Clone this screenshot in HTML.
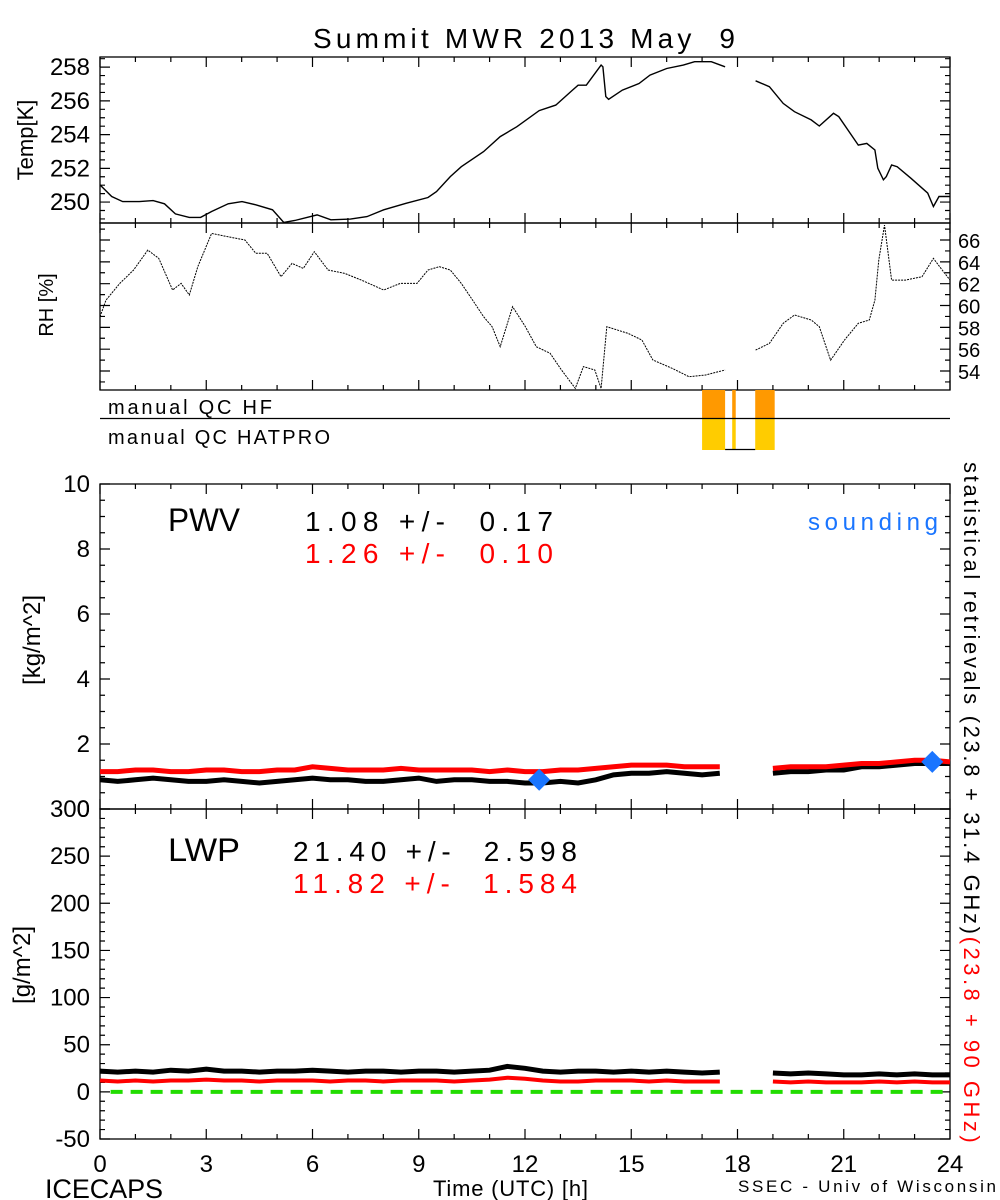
<!DOCTYPE html>
<html><head><meta charset="utf-8"><style>
html,body{margin:0;padding:0;background:#fff}
svg{display:block;font-family:"Liberation Sans",sans-serif}
</style></head><body>
<svg id="c" width="1000" height="1200" viewBox="0 0 1000 1200" xmlns="http://www.w3.org/2000/svg">
<text x="313" y="48" font-size="28" textLength="422" lengthAdjust="spacing" xml:space="preserve">Summit MWR 2013 May  9</text>
<text transform="translate(33,140) rotate(-90)" font-size="22" text-anchor="middle">Temp[K]</text>
<text transform="translate(53,305) rotate(-90)" font-size="20" text-anchor="middle">RH [%]</text>
<text x="108" y="414" font-size="20" textLength="164" lengthAdjust="spacing">manual QC HF</text>
<text x="108" y="444" font-size="20" textLength="222" lengthAdjust="spacing">manual QC HATPRO</text>
<text transform="translate(40,640) rotate(-90)" font-size="24" text-anchor="middle">[kg/m^2]</text>
<text transform="translate(30,965) rotate(-90)" font-size="24" text-anchor="middle">[g/m^2]</text>
<text x="168" y="531" font-size="32" textLength="72" lengthAdjust="spacingAndGlyphs">PWV</text>
<text x="305" y="531" font-size="28" textLength="248" lengthAdjust="spacing" xml:space="preserve">1.08 +/-  0.17</text>
<text x="305" y="563" font-size="28" fill="#ff0000" textLength="248" lengthAdjust="spacing" xml:space="preserve">1.26 +/-  0.10</text>
<text x="808" y="530" font-size="24" fill="#1a75ff" textLength="130" lengthAdjust="spacing">sounding</text>
<text x="168" y="861" font-size="32" textLength="72" lengthAdjust="spacingAndGlyphs">LWP</text>
<text x="293" y="861" font-size="28" textLength="284" lengthAdjust="spacing" xml:space="preserve">21.40 +/-  2.598</text>
<text x="293" y="893" font-size="28" fill="#ff0000" textLength="284" lengthAdjust="spacing" xml:space="preserve">11.82 +/-  1.584</text>
<text transform="translate(964,462) rotate(90)" font-size="22"><tspan textLength="472" lengthAdjust="spacing">statistical retrievals (23.8 + 31.4 GHz)</tspan><tspan fill="#ff0000" textLength="206" lengthAdjust="spacing">(23.8 + 90 GHz)</tspan></text>
<text x="45" y="1198" font-size="27" textLength="118" lengthAdjust="spacing">ICECAPS</text>
<text x="433" y="1196" font-size="22" textLength="155" lengthAdjust="spacing">Time (UTC) [h]</text>
<text x="738" y="1192" font-size="17" textLength="258" lengthAdjust="spacing">SSEC - Univ of Wisconsin</text>
</svg>
<script>
const tempH=[0,0.33,0.64,1.11,1.5,1.82,2.13,2.52,2.84,3.15,3.62,4.01,4.4,4.87,5.19,5.5,6.13,6.52,7.07,7.54,8.01,8.64,9.26,9.5,9.89,10.2,10.83,11.3,11.77,12.4,12.87,13.34,13.5,13.73,14.15,14.2,14.28,14.36,14.75,15.22,15.53,16,16.47,16.79,17.26,17.65,18.0,18.51,18.9,19.29,19.61,20.08,20.31,20.71,20.86,21.41,21.65,21.88,21.96,22.12,22.2,22.35,22.51,22.9,23.37,23.53,23.69,24];
const tempV=[251.02,250.33,250.03,250.03,250.09,249.9,249.3,249.09,249.09,249.44,249.9,250.03,249.84,249.54,248.79,248.91,249.24,248.95,248.99,249.14,249.54,249.93,250.27,250.62,251.51,252.1,252.99,253.88,254.47,255.42,255.75,256.64,256.93,256.93,258.12,258.02,256.25,256.09,256.64,257.03,257.53,257.92,258.12,258.32,258.32,258.02,null,257.19,256.84,255.85,255.36,254.87,254.51,255.26,255.06,253.38,253.48,253.09,252.01,251.32,251.51,252.2,252.1,251.41,250.53,249.74,250.33,250.33];
const rhH=[0,0.17,0.56,0.95,1.35,1.66,2.05,2.29,2.52,2.76,3.15,3.62,4.09,4.4,4.72,5.11,5.42,5.74,6.05,6.44,6.91,7.38,8.01,8.48,8.95,9.26,9.58,9.89,10.2,10.52,10.83,11.07,11.3,11.65,12.01,12.32,12.71,13.03,13.42,13.65,13.97,14.15,14.31,14.91,15.3,15.61,16.16,16.63,17.1,17.65,18.0,18.51,18.9,19.29,19.61,20.08,20.31,20.63,21.02,21.41,21.72,21.88,21.99,22.15,22.35,22.74,23.21,23.53,23.78,24];
const rhV=[58.98,60.5,62.03,63.25,65.08,64.32,61.42,62.03,60.96,63.56,66.61,66.3,66,64.78,64.78,62.64,63.86,63.4,64.93,63.25,62.94,62.33,61.42,62.03,62.03,63.25,63.56,63.25,62.03,60.5,58.98,58.06,56.23,59.89,58.06,56.23,55.62,54.09,52.41,54.4,54.09,52.41,58.06,57.45,56.84,55.01,54.24,53.48,53.63,54.09,null,55.92,56.53,58.37,59.13,58.67,58.06,54.99,56.84,58.37,58.67,60.5,64.17,67.37,62.33,62.33,62.64,64.32,63.25,62.33];
const gridH=[0,0.5,1,1.5,2,2.5,3,3.5,4,4.5,5,5.5,6,6.5,7,7.5,8,8.5,9,9.5,10,10.5,11,11.5,12,12.5,13,13.5,14,14.5,15,15.5,16,16.5,17,17.5,18,18.5,19,19.5,20,20.5,21,21.5,22,22.5,23,23.5,24];
const pwvBlack=[0.9,0.85,0.9,0.95,0.9,0.85,0.85,0.9,0.85,0.8,0.85,0.9,0.95,0.9,0.9,0.85,0.85,0.9,0.95,0.85,0.9,0.9,0.85,0.85,0.8,0.8,0.85,0.8,0.9,1.05,1.1,1.1,1.15,1.1,1.05,1.1,null,null,1.1,1.15,1.15,1.2,1.2,1.3,1.3,1.35,1.4,1.4,1.4];
const pwvRed=[1.15,1.15,1.2,1.2,1.15,1.15,1.2,1.2,1.15,1.15,1.2,1.2,1.3,1.25,1.2,1.2,1.2,1.25,1.2,1.2,1.2,1.2,1.15,1.2,1.15,1.15,1.2,1.2,1.25,1.3,1.35,1.35,1.35,1.3,1.3,1.3,null,null,1.25,1.3,1.3,1.3,1.35,1.4,1.4,1.45,1.5,1.5,1.45];
const lwpBlack=[22,21,22,21,23,22,24,22,22,21,22,22,23,22,21,22,22,21,22,22,21,22,23,27,25,22,21,22,22,21,22,21,22,21,20,21,null,null,20,19,20,19,18,18,19,18,19,18,18];
const lwpRed=[12,11,12,11,12,12,13,12,12,11,12,12,12,11,12,12,11,12,12,12,11,12,13,15,14,12,11,11,12,12,12,11,12,11,11,11,null,null,11,10,11,10,10,10,11,10,11,10,10];
const soundH=[12.4,23.5];
const soundV=[0.9,1.45];
const qcHF=[[17.0,17.65],[17.85,17.95],[18.5,19.05]];
const qcHAT=[[17.0,17.65],[17.85,17.95],[18.5,19.05]];
const xTicks=[0,3,6,9,12,15,18,21,24];
const tempTicks=[250,252,254,256,258];
const rhTicks=[54,56,58,60,62,64,66];
const pwvTicks=[0,2,4,6,8,10];
const lwpTicks=[-50,0,50,100,150,200,250,300];

const svg=document.getElementById('c');
const NS='http://www.w3.org/2000/svg';
const X0=100,X1=950;
const xs=h=>X0+(X1-X0)*h/24;
function lin(d0,d1,p0,p1){return v=>p0+(v-d0)*(p1-p0)/(d1-d0);}
const yT=lin(248.76,258.6,223,57);
const yR=lin(52.26,67.56,390,223);
const yP=lin(0,10,809,484);
const yL=lin(-50,300,1139,809);
function el(t,a){const e=document.createElementNS(NS,t);for(const k in a)e.setAttribute(k,a[k]);svg.appendChild(e);return e;}
function pathD(hs,vs,ys){let d='',pen=false;for(let i=0;i<hs.length;i++){if(vs[i]==null){pen=false;continue;}d+=(pen?'L':'M')+xs(hs[i]).toFixed(1)+','+ys(vs[i]).toFixed(1);pen=true;}return d;}
function frame(top,bot,name){
  const r=el('rect',{x:X0,y:top,width:X1-X0,height:bot-top,fill:'none',stroke:'#000','stroke-width':1.3});
  
  
  let d='';
  for(let h=0;h<=24;h++){const L=(h%3==0)?10:5;d+=`M${xs(h)},${bot}v${-L}M${xs(h)},${top}v${L}`;}
  const t=el('path',{d:d,stroke:'#000','stroke-width':1.2});
  
  
}
function yticks(vals,ys,minor,name,side,fs){
  let d='';
  for(const v of minor){const y=ys(v);d+=`M${X0},${y}h5M${X1},${y}h-5`;}
  for(const v of vals){const y=ys(v);d+=`M${X0},${y}h10M${X1},${y}h-10`;
    const t=el('text',{x:side=='r'?958:90,y:y+8,'font-size':fs,'text-anchor':side=='r'?'start':'end'});
    t.textContent=v;
    
    }
  const p=el('path',{d:d,stroke:'#000','stroke-width':1.2});
  
  
}
function range(a,b,s){const r=[];for(let v=a;v<=b+1e-9;v+=s)r.push(+v.toFixed(3));return r;}

frame(57,223,'temp-panel');
yticks(tempTicks,yT,range(249,258.5,0.5),'temp','l',24);
let p=el('path',{d:pathD(tempH,tempV,yT),fill:'none',stroke:'#000','stroke-width':1.4});


frame(223,390,'rh-panel');
yticks(rhTicks,yR,range(53,67,1),'rh','r',20);
p=el('path',{d:pathD(rhH,rhV,yR),fill:'none',stroke:'#000','stroke-width':1,'stroke-dasharray':'2 1'});


for(const [a,b] of qcHF){const r=el('rect',{x:xs(a),y:390,width:xs(b)-xs(a),height:29,fill:'#ff9900'});
  
  }
for(const [a,b] of qcHAT){const r=el('rect',{x:xs(a),y:419,width:xs(b)-xs(a),height:31,fill:'#ffcc00'});
  
  }
p=el('path',{d:`M${X0},418.5H${X1}M${xs(17.65)},449.5H${xs(18.5)}`,stroke:'#000','stroke-width':1.3});


frame(484,809,'pwv-panel');
yticks(pwvTicks,yP,range(0,10,0.5),'pwv','l',24);
p=el('path',{d:pathD(gridH,pwvBlack,yP),fill:'none',stroke:'#000','stroke-width':5});


p=el('path',{d:pathD(gridH,pwvRed,yP),fill:'none',stroke:'#ff0000','stroke-width':5});


for(let i=0;i<soundH.length;i++){const cx=xs(soundH[i]),cy=yP(soundV[i]);
  const d=el('path',{d:`M${cx-11},${cy}L${cx},${cy-11}L${cx+11},${cy}L${cx},${cy+11}Z`,fill:'#1a75ff'});
  
  }
frame(809,1139,'lwp-panel');
yticks(lwpTicks,yL,range(-50,300,10),'lwp','l',24);
p=el('path',{d:`M${xs(0.3)},${yL(0)}H${X1}`,stroke:'#22dd00','stroke-width':4,'stroke-dasharray':'12 8'});


p=el('path',{d:pathD(gridH,lwpBlack,yL),fill:'none',stroke:'#000','stroke-width':5});


p=el('path',{d:pathD(gridH,lwpRed,yL),fill:'none',stroke:'#ff0000','stroke-width':4});


for(const h of xTicks){const t=el('text',{x:xs(h),y:1172,'font-size':24,'text-anchor':'middle'});
  t.textContent=h;
  
  }
</script>
</body></html>
